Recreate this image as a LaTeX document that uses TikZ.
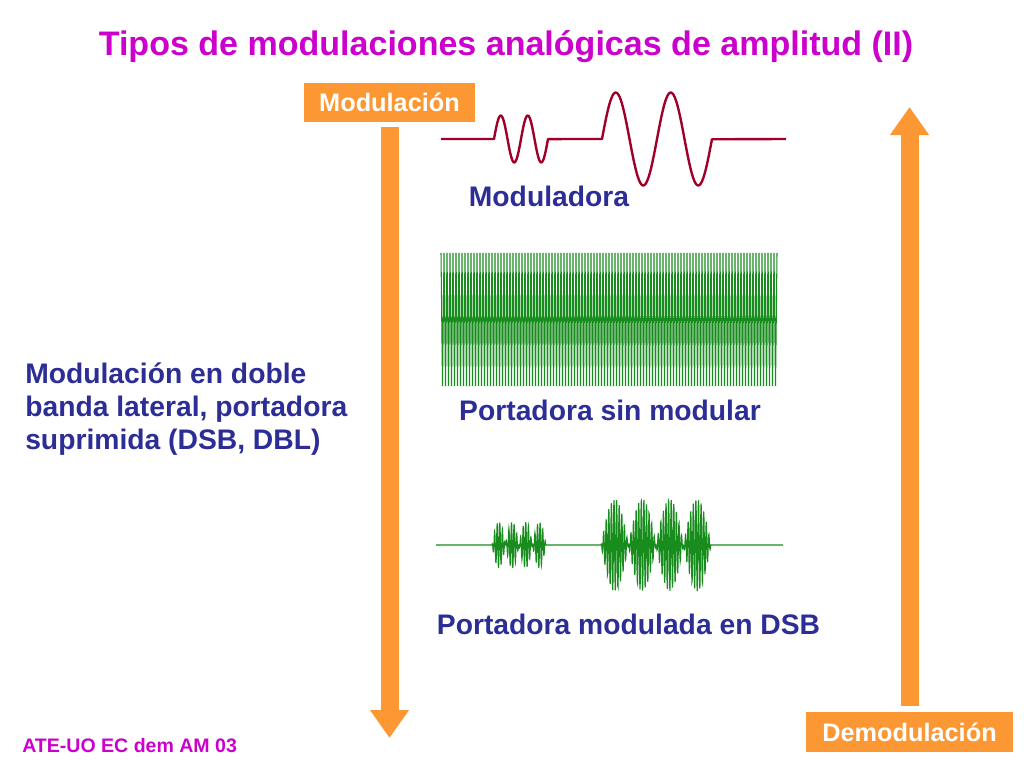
\documentclass[tikz,border=0pt]{standalone}
\usepackage{fontspec}
\setmainfont{Liberation Sans}
\usetikzlibrary{arrows.meta}
\definecolor{slideMagenta}{RGB}{204, 0, 204}
\definecolor{slideNavy}{RGB}{45, 45, 150}
\definecolor{slideOrange}{RGB}{252, 152, 52}
\definecolor{waveRed}{RGB}{160, 0, 40}
\definecolor{waveGreen}{RGB}{25, 140, 30}

\begin{document}
\begin{tikzpicture}[x=0.025cm, y=-0.025cm,
    label/.style={text=slideNavy, font=\fontsize{20.1}{24}\selectfont\bfseries},
    tagbox/.style={fill=slideOrange, text=white, font=\fontsize{18}{21}\selectfont\bfseries, inner sep=0pt, minimum height=0.99cm},
    bigarrow/.style={slideOrange, line width=0.45cm, -{Triangle[length=0.7cm, width=0.93cm]}}]
        \useasboundingbox (0,0) rectangle (1024,768);
        % titulo y pie
        \node[text=slideMagenta, font=\fontsize{24.2}{28}\selectfont\bfseries] (title) at (506,47) {Tipos de modulaciones analógicas de amplitud (II)};
        \node[anchor=west, text=slideMagenta, font=\fontsize{13.9}{16}\selectfont\bfseries, inner sep=0pt] (footer) at (22,746) {ATE-UO EC dem AM 03};
        % cajas y flechas
        \node[tagbox, minimum width=4.28cm] (modbox) at (389.5,102.5) {Modulación};
        \node[tagbox, minimum width=5.18cm] (demodbox) at (909.5,732) {Demodulación};
        \coordinate (modend) at (389.5,738);
        \coordinate (demodend) at (909.5,107);
        \draw[bigarrow, shorten <=0.12cm] (modbox.south) -- (modend);
        \draw[bigarrow, shorten <=0.15cm] (demodbox.north) -- (demodend);
        % moduladora (t en periodos)
        \draw[waveRed, line width=1.7pt, line join=round]
            (441,139) -- (494,139)
            -- plot[domain=0:2, samples=60, smooth] ({494+27*\x}, {139-23.5*sin(360*\x)})
            -- (602,139)
            -- plot[domain=0:2, samples=90, smooth] ({602+55*\x}, {139-46.5*sin(360*\x)})
            -- (786,139);
        \node[label] (lblmod) at (549,196) {Moduladora};
        % portadora
        \draw[waveGreen, line width=0.75pt]
            plot[domain=0:224, samples=225] ({441+1.5*\x}, {319.5-66.5*(1-2*mod(round(\x),2))});
        \node[label] (lblcarrier) at (610,410) {Portadora sin modular};
        % DSB
        \draw[waveGreen, line width=0.8pt]
            (436,545) -- (492,545)
            -- plot[domain=0:20.77, samples=250] ({492+2.6*\x}, {545-23*sin(360*\x/10.385)*cos(360*(\x-floor(\x)))})
            -- (601,545)
            -- plot[domain=0:42.3, samples=480] ({601+2.6*\x}, {545-46*sin(360*\x/21.15)*cos(360*(\x-floor(\x)))})
            -- (783,545);
        \node[label] (lbldsb) at (628.5,624) {Portadora modulada en DSB};
        % texto lateral
        \node[label, anchor=west, align=left, inner sep=0pt, font=\fontsize{20.1}{23.5}\selectfont\bfseries] (desc) at (25,409)
            {Modulación en doble\\banda lateral, portadora\\suprimida (DSB, DBL)};
\end{tikzpicture}
\end{document}
